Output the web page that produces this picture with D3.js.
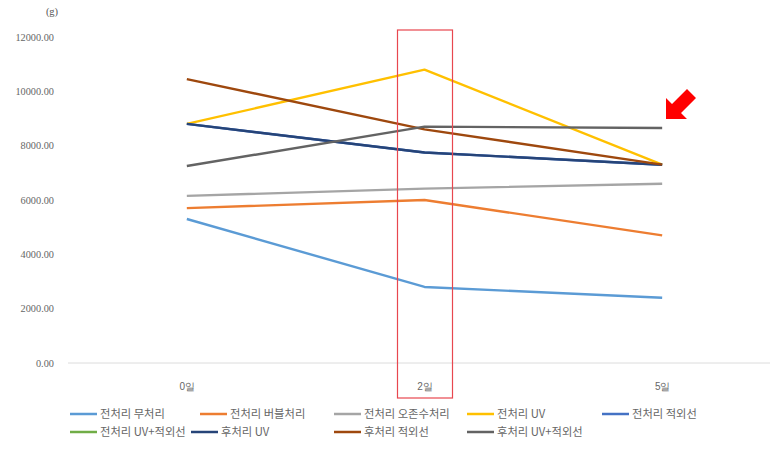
<!DOCTYPE html>
<html>
<head>
<meta charset="utf-8">
<script src="https://cdn.jsdelivr.net/npm/d3@7"></script>
<style>
  html, body { margin: 0; padding: 0; background: #fff; }
  svg { display: block; font-family: "Noto Sans CJK KR", "Noto Sans", sans-serif; }
</style>
</head>
<body>
<svg id="chart" width="773" height="449"></svg>
<script>
// Storage days on the x axis
const days = ["0일", "2일", "5일"];

// Weight (g) for each treatment
const seriesNames = [
  "전처리 무처리", "전처리 버블처리", "전처리 오존수처리", "전처리 UV", "전처리 적외선",
  "전처리 UV+적외선", "후처리 UV", "후처리 적외선", "후처리 UV+적외선"
];
const seriesColors = [
  "#5b9bd5", "#ed7d31", "#a5a5a5", "#ffc000", "#4472c4",
  "#70ad47", "#264478", "#9e480e", "#636363"
];
const noTreat      = [5300, 2800, 2400];
const bubble       = [5700, 6000, 4700];
const ozone        = [6150, 6420, 6600];
const preUV        = [8800, 10800, 7300];
const preIR        = [8800, 7750, 7300];
const preUVIR      = [null, null, null];
const postUV       = [8800, 7750, 7300];
const postIR       = [10450, 8600, 7300];
const postUVIR     = [7250, 8700, 8650];
const seriesValues = [noTreat, bubble, ozone, preUV, preIR, preUVIR, postUV, postIR, postUVIR];

const yTicks = [0, 2000, 4000, 6000, 8000, 10000, 12000];

const svg = d3.select("#chart");
const plot = { left: 68, right: 781, top: 37, bottom: 363 };

const x = d3.scalePoint().domain(days).range([plot.left, plot.right]).padding(0.5);
const y = d3.scaleLinear().domain([0, 12000]).range([plot.bottom, plot.top]);

// Y axis labels
const yAxis = svg.append("g")
  .attr("transform", `translate(54,0)`)
  .call(d3.axisLeft(y).tickValues(yTicks).tickFormat(d3.format(".2f")).tickSize(0).tickPadding(0));
yAxis.select(".domain").remove();
yAxis.selectAll("text").attr("fill", "#666").attr("font-size", 10.3)
  .attr("font-family", "Liberation Serif, serif");

// Unit label
svg.append("text").attr("x", 52).attr("y", 15).attr("text-anchor", "middle")
  .attr("fill", "#595959").attr("font-size", 10.5).attr("font-family", "Liberation Serif, serif").text("(g)");

// Baseline
svg.append("line")
  .attr("x1", plot.left).attr("x2", 770)
  .attr("y1", y(0)).attr("y2", y(0))
  .attr("stroke", "#dcdcdc").attr("stroke-width", 1);

// X axis labels
const xAxis = svg.append("g")
  .attr("transform", `translate(0,${y(0) + 20})`)
  .call(d3.axisBottom(x).tickSize(0).tickPadding(0));
xAxis.select(".domain").remove();
xAxis.selectAll("text").attr("fill", "#666").attr("font-size", 10);

// Series lines
const line = d3.line()
  .defined(d => d.v !== null)
  .x(d => x(d.day))
  .y(d => y(d.v));

seriesNames.forEach((name, i) => {
  const pts = days.map((day, j) => ({ day, v: seriesValues[i][j] }));
  svg.append("path")
    .datum(pts)
    .attr("fill", "none")
    .attr("stroke", seriesColors[i])
    .attr("stroke-width", 2.4)
    .attr("stroke-linejoin", "round")
    .attr("d", line);
});

// Highlight box around day 2
svg.append("rect")
  .attr("x", x("2일") - 27).attr("y", 30)
  .attr("width", 55).attr("height", 368)
  .attr("fill", "none").attr("stroke", "#e8474f").attr("stroke-width", 1.2);

// Arrow pointing at the day-5 plateau
svg.append("path")
  .attr("d", "M0,0 L0,-21 L6,-15 L21,-30 L30,-21 L15,-6 L21,0 Z")
  .attr("transform", "translate(666,119)")
  .attr("fill", "#ff0000");

// Legend
const legendPos = [
  [70, 414], [200, 414], [334, 414], [467, 414], [602, 414],
  [70, 432], [191, 432], [334, 432], [467, 432]
];
const legend = svg.append("g");
seriesNames.forEach((name, i) => {
  const [lx, ly] = legendPos[i];
  legend.append("line")
    .attr("x1", lx).attr("x2", lx + 27)
    .attr("y1", ly).attr("y2", ly)
    .attr("stroke", seriesColors[i]).attr("stroke-width", 2.5);
  legend.append("text")
    .attr("x", lx + 30).attr("y", ly + 4)
    .attr("fill", "#666").attr("font-size", 11.3)
    .text(name);
});
</script>
</body>
</html>
